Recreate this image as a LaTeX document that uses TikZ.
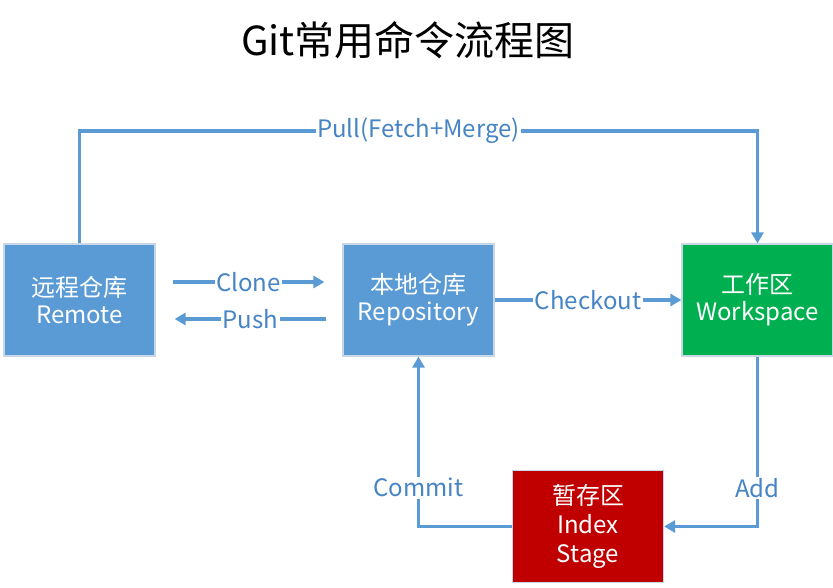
\documentclass[tikz,border=0pt]{standalone}
\usepackage{fontspec}
\setmainfont{Noto Sans CJK SC}
\usetikzlibrary{arrows.meta,positioning}

\definecolor{boxblue}{RGB}{91,155,213}
\definecolor{boxgreen}{RGB}{0,176,80}
\definecolor{boxred}{RGB}{192,0,0}
\definecolor{edgegray}{RGB}{200,214,230}
\definecolor{linkblue}{RGB}{91,155,213}
\definecolor{labelblue}{RGB}{70,132,198}

\tikzset{
  area/.style={draw=edgegray, line width=1.2, text=white, minimum width=151, minimum height=112,
    align=center, inner sep=0, font=\fontsize{24}{27}\selectfont},
  flow/.style={draw=linkblue, line width=3.5, -{Triangle[length=11,width=12]}},
  lbl/.style={fill=white, text=labelblue, inner sep=1.5, font=\fontsize{24}{26}\selectfont}
}

\begin{document}
\begin{tikzpicture}[x=1pt,y=1pt,yscale=-1,xscale=1]
\path[use as bounding box] (0,0) rectangle (833,587);

% Text Node
\node (title) at (408,40) {\fontsize{40}{46}\selectfont Git常用命令流程图};

%Shape: Rectangle
\node[area, fill=boxblue] (remote) at (79.5,300) {远程仓库\\Remote};
%Shape: Rectangle
\node[area, fill=boxblue] (repo) at (418.5,300) {本地仓库\\Repository};
%Shape: Rectangle
\node[area, fill=boxgreen] (work) at (757.5,300) {工作区\\Workspace};
%Shape: Rectangle
\node[area, fill=boxred, font=\fontsize{24}{29}\selectfont] (index) at (588,526.5) {暂存区\\Index\\Stage};

% corner points of the pull loop
\coordinate (pullL) at (remote.north |- 0,131);
\coordinate (pullR) at (work.north |- 0,131);
% gaps beside the clone / push arrows
\coordinate (cloneA) at ([xshift=17,yshift=-18]remote.east);
\coordinate (cloneB) at ([xshift=-18,yshift=-18]repo.west);
\coordinate (pushA) at ([xshift=-16,yshift=19]repo.west);
\coordinate (pushB) at ([xshift=19,yshift=19]remote.east);

%Straight Lines
\draw[flow] (remote.north) -- (pullL) -- node[lbl] {Pull(Fetch+Merge)} (pullR) -- (work.north);
%Straight Lines
\draw[flow] (cloneA) -- node[lbl] {Clone} (cloneB);
%Straight Lines
\draw[flow] (pushA) -- node[lbl] {Push} (pushB);
%Straight Lines
\draw[flow] (repo.east) -- node[lbl] {Checkout} (work.west);
%Straight Lines
\draw[flow] (work.south) |- node[lbl, pos=0.386] {Add} (index.east);
%Straight Lines
\draw[flow] (index.west) -| node[lbl, pos=0.614] {Commit} (repo.south);

\end{tikzpicture}
\end{document}
